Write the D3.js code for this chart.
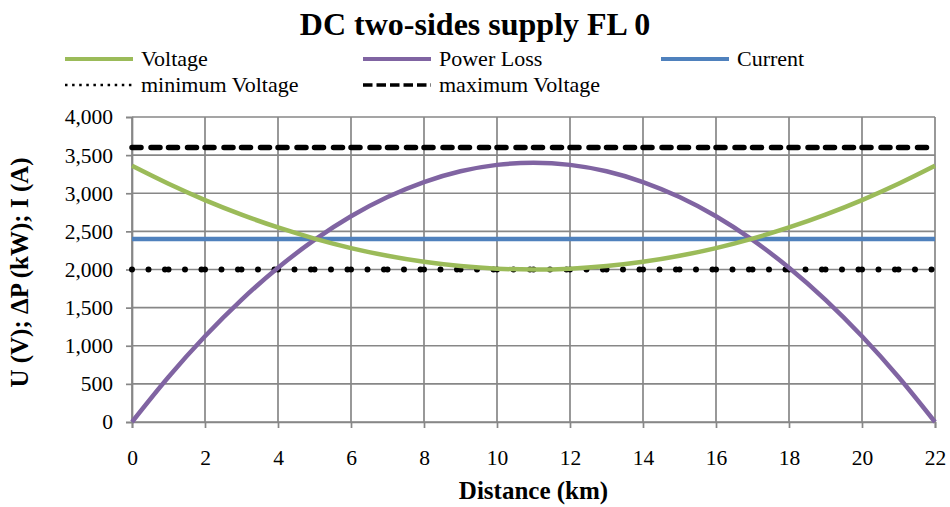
<!DOCTYPE html>
<html>
<head>
<meta charset="utf-8">
<script src="https://cdn.jsdelivr.net/npm/d3@7"></script>
<style>
  html, body { margin: 0; padding: 0; background: #fff; }
  svg text { font-family: "Liberation Serif", "DejaVu Serif", serif; fill: #000; }
</style>
</head>
<body>
<svg id="chart" width="950" height="507"></svg>
<script>
// Distance along the line, km
const distance = [0, 1, 2, 3, 4, 5, 6, 7, 8, 9, 10, 11, 12, 13, 14, 15, 16, 17, 18, 19, 20, 21, 22];
// Series values per km
const voltage   = [3360, 3124, 2910, 2719, 2551, 2405, 2281, 2180, 2101, 2045, 2011, 2000,
                   2011, 2045, 2101, 2180, 2281, 2405, 2551, 2719, 2910, 3124, 3360];
const powerLoss = [0, 590, 1124, 1602, 2023, 2388, 2698, 2950, 3147, 3288, 3372, 3400,
                   3372, 3288, 3147, 2950, 2698, 2388, 2023, 1602, 1124, 590, 0];
const current   = [2400, 2400, 2400, 2400, 2400, 2400, 2400, 2400, 2400, 2400, 2400, 2400,
                   2400, 2400, 2400, 2400, 2400, 2400, 2400, 2400, 2400, 2400, 2400];
const minVoltage = [2000, 2000, 2000, 2000, 2000, 2000, 2000, 2000, 2000, 2000, 2000, 2000,
                    2000, 2000, 2000, 2000, 2000, 2000, 2000, 2000, 2000, 2000, 2000];
const maxVoltage = [3600, 3600, 3600, 3600, 3600, 3600, 3600, 3600, 3600, 3600, 3600, 3600,
                    3600, 3600, 3600, 3600, 3600, 3600, 3600, 3600, 3600, 3600, 3600];
const xTicks = [0, 2, 4, 6, 8, 10, 12, 14, 16, 18, 20, 22];
const yTicks = [0, 500, 1000, 1500, 2000, 2500, 3000, 3500, 4000];

const titleText = "DC two-sides supply FL 0";
const xTitle = "Distance (km)";
const yTitle = "U (V); ΔP (kW); I (A)";

const svg = d3.select("#chart");
const plot = { left: 132, right: 935, top: 117, bottom: 422 };
const gridColor = "#878787";
const serif = "Liberation Serif, DejaVu Serif, serif";

const x = d3.scaleLinear().domain([0, 22]).range([plot.left, plot.right]);
const y = d3.scaleLinear().domain([0, 4000]).range([plot.bottom, plot.top]);

// Title
svg.append("text")
  .attr("x", 475).attr("y", 35)
  .attr("text-anchor", "middle")
  .style("font-family", serif)
  .style("font-size", "32px").style("font-weight", "bold")
  .text(titleText);

// Horizontal gridlines
svg.append("g").selectAll("line").data(yTicks).join("line")
  .attr("x1", plot.left).attr("x2", plot.right)
  .attr("y1", d => y(d)).attr("y2", d => y(d))
  .attr("stroke", gridColor).attr("stroke-width", 1.7);

// Vertical gridlines
svg.append("g").selectAll("line").data(xTicks).join("line")
  .attr("x1", d => x(d)).attr("x2", d => x(d))
  .attr("y1", plot.top).attr("y2", plot.bottom)
  .attr("stroke", gridColor).attr("stroke-width", 1.7);

// Y axis
const yAxis = svg.append("g")
  .attr("transform", `translate(${plot.left},0)`)
  .call(d3.axisLeft(y).tickValues(yTicks).tickFormat(d3.format(",")).tickSize(6).tickPadding(13));
yAxis.select(".domain").attr("stroke", gridColor).attr("stroke-width", 1.7);
yAxis.selectAll(".tick line").attr("stroke", gridColor).attr("stroke-width", 1.7);
yAxis.selectAll(".tick text")
  .style("font-size", "21.5px").style("font-family", serif).attr("fill", "#000");

// X axis
const xAxis = svg.append("g")
  .attr("transform", `translate(0,${plot.bottom})`)
  .call(d3.axisBottom(x).tickValues(xTicks).tickFormat(d3.format("d")).tickSize(6).tickPadding(22));
xAxis.select(".domain").attr("stroke", gridColor).attr("stroke-width", 1.7);
xAxis.selectAll(".tick line").attr("stroke", gridColor).attr("stroke-width", 1.7);
xAxis.selectAll(".tick text")
  .style("font-size", "21.5px").style("font-family", serif).attr("fill", "#000");

// Axis titles
svg.append("text")
  .attr("x", (plot.left + plot.right) / 2).attr("y", 499)
  .attr("text-anchor", "middle")
  .style("font-family", serif)
  .style("font-size", "25px").style("font-weight", "bold")
  .text(xTitle);

svg.append("text")
  .attr("transform", `translate(28,${(plot.top + plot.bottom) / 2 + 3}) rotate(-90)`)
  .attr("text-anchor", "middle")
  .style("font-family", serif)
  .style("font-size", "25px").style("font-weight", "bold")
  .text(yTitle);

// Reference lines: drawn per 1 km interval so the dash pattern restarts at every point
function segmented(values, style) {
  const pts = distance.map((d, i) => [d, values[i]]);
  svg.append("g").selectAll("line").data(d3.pairs(pts)).join("line")
    .attr("x1", d => x(d[0][0])).attr("y1", d => y(d[0][1]))
    .attr("x2", d => x(d[1][0])).attr("y2", d => y(d[1][1]))
    .attr("stroke", "#000")
    .attr("stroke-width", style.width)
    .attr("stroke-dasharray", style.dash)
    .attr("stroke-linecap", "round");
}
segmented(minVoltage, { width: 6, dash: "0,16.5" });
segmented(maxVoltage, { width: 5.5, dash: "9,10" });

// Main series
const line = d3.line()
  .x((d, i) => x(distance[i]))
  .y(d => y(d))
  .curve(d3.curveMonotoneX);

const series = [
  { name: "Current", values: current, color: "#4F81BD" },
  { name: "Power Loss", values: powerLoss, color: "#8064A2" },
  { name: "Voltage", values: voltage, color: "#9BBB59" }
];
svg.append("g").selectAll("path").data(series).join("path")
  .attr("d", d => line(d.values))
  .attr("fill", "none")
  .attr("stroke", d => d.color)
  .attr("stroke-width", 4.5)
  .attr("stroke-linejoin", "round");

// Legend
const legend = [
  { label: "Voltage", color: "#9BBB59", x: 65, y: 59, width: 4, dash: null },
  { label: "Power Loss", color: "#8064A2", x: 363, y: 59, width: 4, dash: null },
  { label: "Current", color: "#4F81BD", x: 661, y: 59, width: 4, dash: null },
  { label: "minimum Voltage", color: "#000", x: 65, y: 85, width: 2.5, dash: "2.5,4.6" },
  { label: "maximum Voltage", color: "#000", x: 363, y: 85, width: 3.5, dash: "9.5,4" }
];
const lg = svg.append("g").selectAll("g").data(legend).join("g")
  .attr("transform", d => `translate(${d.x},${d.y})`);
lg.append("line")
  .attr("x1", 0).attr("x2", 68).attr("y1", 0).attr("y2", 0)
  .attr("stroke", d => d.color)
  .attr("stroke-width", d => d.width)
  .attr("stroke-dasharray", d => d.dash);
lg.append("text")
  .attr("x", 76).attr("y", 7)
  .style("font-family", serif)
  .style("font-size", "22px")
  .text(d => d.label);
</script>
</body>
</html>
